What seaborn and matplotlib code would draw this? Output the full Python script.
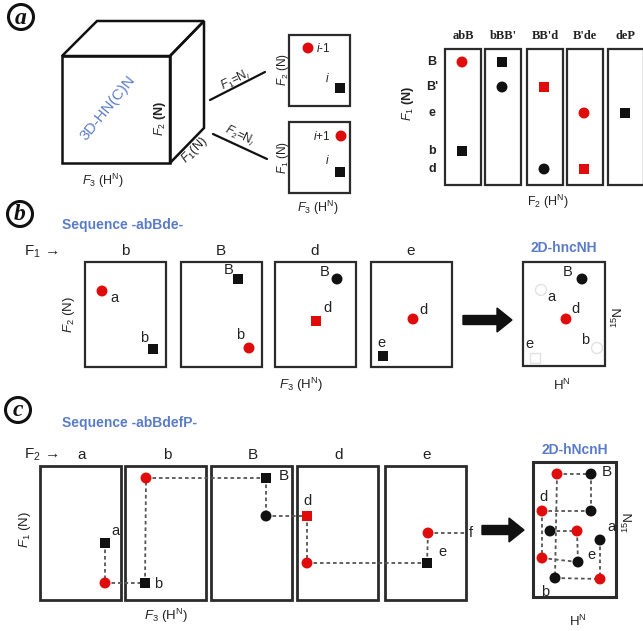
import numpy as np
import pandas as pd
import matplotlib
matplotlib.use("Agg")
import matplotlib.pyplot as plt
import seaborn as sns
from matplotlib.patches import Rectangle, Circle, Polygon, FancyArrow

sns.set_theme(style="white")
plt.rcParams['font.family'] = ['Liberation Sans', 'DejaVu Sans']
plt.rcParams['mathtext.fontset'] = 'custom'
plt.rcParams['mathtext.rm'] = 'Liberation Sans'
plt.rcParams['mathtext.it'] = 'Liberation Sans:italic'
plt.rcParams['mathtext.bf'] = 'Liberation Sans:bold'

RED = "#e00c0c"
BLK = "#111111"
BLUE = "#5a7cc8"
EDGE = "#2b2b2b"
DOT = "#555555"

# ---------------- data ----------------
# (a) strips of the 3D-HN(C)N spectrum
strip_titles = ["abB", "bBB'", "BB'd", "B'de", "deP"]
strip_levels = ["B", "B'", "e", "b", "d"]
strip_level_y = [62, 87, 113, 151, 169]
strip_left = [445, 485, 527, 567, 608]
strip_peak_strip = [0, 0, 1, 1, 2, 2, 3, 3, 4]
strip_peak_level = ["B", "b", "B", "B'", "B'", "d", "e", "d", "e"]
strip_peak_colour = ["red", "black", "black", "black", "red", "black", "red", "red", "black"]
strip_peak_shape = ["circle", "square", "square", "circle", "square", "circle", "circle", "square", "square"]

# (a) planes F1=Ni and F2=Ni
plane_x = [308, 340, 341, 340]
plane_y = [48, 88, 136, 172]
plane_colour = ["red", "black", "red", "black"]
plane_shape = ["circle", "square", "circle", "square"]

# (b) sequence -abBde- strips and 2D-hncNH
b_titles = ["b", "B", "d", "e"]
b_left = [85, 181, 275, 371]
b_x = [102, 153, 238, 249, 337, 316, 413, 383, 582, 566]
b_y = [291, 349, 279, 348, 279, 321, 319, 356, 279, 319]
b_colour = ["red", "black", "black", "red", "black", "red", "red", "black", "black", "red"]
b_shape = ["circle", "square", "square", "circle", "circle", "square", "circle", "square", "circle", "circle"]
b_labels = ["a", "b", "B", "b", "B", "d", "d", "e", "B", "d"]
b_label_dx = [12, -9, -9, -9, -12, 11, 10, -2, -14, 10]
b_label_dy = [7, -11, -9, -13, -7, -13, -9, -13, -7, -10]
hnc_ghost_x = [541, 597, 535]
hnc_ghost_y = [290, 348, 358]
hnc_ghost_shape = ["circle", "circle", "square"]
hnc_ghost_labels = ["a", "b", "e"]

# (c) sequence -abBdefP- strips and 2D-hNcnH
c_titles = ["a", "b", "B", "d", "e"]
c_left = [40, 125, 211, 297, 385]
c_x = [105, 105, 145, 146, 266, 266, 307, 307, 427, 428]
c_y = [543, 583, 583, 478, 478, 516, 516, 563, 563, 533]
c_colour = ["black", "red", "black", "red", "black", "black", "red", "red", "black", "red"]
c_shape = ["square", "circle", "square", "circle", "square", "circle", "square", "circle", "square", "circle"]
c_links = [(0, 1), (1, 2), (2, 3), (3, 4), (4, 5), (5, 6), (6, 7), (7, 8), (8, 9)]

n_x = [557, 591, 591, 542, 550, 577, 600, 542, 578, 555, 600]
n_y = [474, 474, 511, 511, 531, 531, 540, 558, 562, 578, 579]
n_colour = ["red", "black", "black", "red", "black", "red", "black", "red", "black", "black", "red"]
n_links = [(0, 1), (1, 2), (2, 3), (0, 9), (3, 7), (4, 5), (5, 8), (7, 8), (9, 10), (6, 10)]

# ---------------- figure ----------------
fig = plt.figure(figsize=(6.43, 6.31), dpi=100)
ax = fig.add_axes([0, 0, 1, 1])


def frame(x0, y0, x1, y1, lw=1.6, color=EDGE):
    ax.add_patch(Rectangle((x0, y0), x1 - x0, y1 - y0, fill=False,
                           lw=lw, ec=color, zorder=2))


def txt(x, y, s, size=10, **kw):
    kw.setdefault("ha", "center")
    kw.setdefault("va", "center")
    kw.setdefault("color", "#222222")
    ax.text(x, y, s, fontsize=size, **kw)


def circled(x, y, letter):
    ax.add_patch(Circle((x, y), 12.5, fill=False, lw=2.2, ec=BLK, zorder=3))
    ax.text(x, y + 1, letter, fontsize=17, ha="center", va="center",
            family=["Liberation Serif"], style="italic", weight="bold", color=BLK)


def arrow(x, y, length):
    ax.add_patch(FancyArrow(x, y, length, 0, width=9, head_width=24,
                            head_length=15, length_includes_head=True,
                            color=BLK, zorder=3))


rows = []

# ---------- panel (a) ----------
circled(21, 17, "a")
front = [(62, 56), (170, 56), (170, 163), (62, 163)]
top = [(62, 56), (97, 21), (204, 21), (170, 56)]
side = [(170, 56), (204, 21), (204, 128), (170, 163)]
for poly in (front, top, side):
    ax.add_patch(Polygon(poly, closed=True, fill=False, lw=1.8, ec=BLK, zorder=2))
txt(108, 108, "3D-HN(C)N", size=11, rotation=51, color=BLUE)
txt(160, 118, "$F_2$ (N)", size=9, rotation=90, weight="bold")
txt(103, 181, "$F_3$ (H$^{\\rm N}$)", size=9)
txt(194, 150, "$F_1$(N)", size=9, rotation=45)

ax.plot([210, 265], [100, 72], color=BLK, lw=1.6)
ax.plot([213, 267], [134, 159], color=BLK, lw=1.6)
txt(236, 80, "$F_1$=N$_i$", size=8.5, rotation=27)
txt(240, 136, "$F_2$=N$_i$", size=8.5, rotation=-25)

frame(289, 35, 350, 106)
frame(289, 122, 350, 193)
txt(283, 70, "$F_2$ (N)", size=8.5, rotation=90)
txt(283, 158, "$F_1$ (N)", size=8.5, rotation=90)
txt(318, 208, "$F_3$ (H$^{\\rm N}$)", size=9)
txt(323, 48, "$i$-1", size=8.5)
txt(327, 78, "$i$", size=8.5)
txt(322, 136, "$i$+1", size=8.5)
txt(327, 161, "$i$", size=8.5)
for x, y, c, s in zip(plane_x, plane_y, plane_colour, plane_shape):
    rows.append((x, y, c, s))

for i, t in enumerate(strip_titles):
    x0 = strip_left[i]
    frame(x0, 49, x0 + 36, 185)
    txt(x0 + 18, 36, t, size=9, weight="bold", family=["Liberation Serif"])
for lev, yy in zip(strip_levels, strip_level_y):
    txt(432, yy, lev, size=9, weight="bold")
txt(408, 103, "$F_1$ (N)", size=9, rotation=90, weight="bold")
txt(548, 202, "F$_2$ (H$^{\\rm N}$)", size=9)
lev_y = dict(zip(strip_levels, strip_level_y))
for si, lv, c, s in zip(strip_peak_strip, strip_peak_level, strip_peak_colour, strip_peak_shape):
    rows.append((strip_left[si] + 17, lev_y[lv], c, s))

# ---------- panel (b) ----------
circled(20, 214, "b")
txt(62, 225, "Sequence -abBde-", size=10, color=BLUE, weight="bold", ha="left")
txt(24, 252, "F$_1$ →", size=11, ha="left")
for t, x0 in zip(b_titles, b_left):
    frame(x0, 262, x0 + 81, 367)
    txt(x0 + 40, 251, t, size=11)
frame(523, 262, 605, 366)
txt(564, 248, "2D-hncNH", size=10, color=BLUE, weight="bold")
txt(69, 315, "$F_2$ (N)", size=9.5, rotation=90)
txt(301, 385, "$F_3$ (H$^{\\rm N}$)", size=9.5)
txt(562, 385, "H$^{\\rm N}$", size=9.5)
txt(618, 317, "$^{15}$N", size=9.5, rotation=90)
arrow(463, 320, 49)
for x, y, c, s, lab, dx, dy in zip(b_x, b_y, b_colour, b_shape, b_labels, b_label_dx, b_label_dy):
    rows.append((x, y, c, s))
    txt(x + dx, y + dy, lab, size=10.5)
for x, y, s, lab in zip(hnc_ghost_x, hnc_ghost_y, hnc_ghost_shape, hnc_ghost_labels):
    rows.append((x, y, "ghost", s))
txt(551, 297, "a", size=10.5)
txt(585, 340, "b", size=10.5)
txt(529, 344, "e", size=10.5)

# ---------- panel (c) ----------
circled(18, 410, "c")
txt(62, 423, "Sequence -abBdefP-", size=10, color=BLUE, weight="bold", ha="left")
txt(24, 455, "F$_2$ →", size=11, ha="left")
for t, x0 in zip(c_titles, c_left):
    frame(x0, 466, x0 + 81, 600, lw=2.0)
    txt(x0 + 42, 455, t, size=11)
frame(533, 462, 616, 597, lw=2.2)
txt(575, 450, "2D-hNcnH", size=10, color=BLUE, weight="bold")
txt(25, 530, "$F_1$ (N)", size=9.5, rotation=90)
txt(166, 616, "$F_3$ (H$^{\\rm N}$)", size=9.5)
txt(578, 621, "H$^{\\rm N}$", size=9.5)
txt(629, 522, "$^{15}$N", size=9.5, rotation=90)
arrow(482, 530, 42)

for i, j in c_links:
    ax.plot([c_x[i], c_x[j]], [c_y[i], c_y[j]], color=DOT, lw=1.3,
            ls=(0, (2, 1.6)), zorder=3)
ax.plot([c_x[9], 466], [c_y[9], c_y[9]], color=DOT, lw=1.3, ls=(0, (2, 1.6)), zorder=3)
txt(471, 533, "f", size=10.5)
for x, y, c, s in zip(c_x, c_y, c_colour, c_shape):
    rows.append((x, y, c, s))
txt(115, 531, "a", size=10.5)
txt(158, 584, "b", size=10.5)
txt(284, 476, "B", size=11)
txt(307, 501, "d", size=10.5)
txt(442, 552, "e", size=10.5)

for i, j in n_links:
    ax.plot([n_x[i], n_x[j]], [n_y[i], n_y[j]], color=DOT, lw=1.3,
            ls=(0, (2, 1.6)), zorder=3)
for x, y, c in zip(n_x, n_y, n_colour):
    rows.append((x, y, c, "circle"))
txt(607, 472, "B", size=11)
txt(543, 497, "d", size=10.5)
txt(611, 527, "a", size=10.5)
txt(591, 555, "e", size=10.5)
txt(545, 592, "b", size=10.5)

# ---------- all peaks ----------
peaks = pd.DataFrame(rows, columns=["x", "y", "colour", "shape"])
solid = peaks[peaks["colour"] != "ghost"]
sns.scatterplot(data=solid, x="x", y="y", hue="colour", style="shape",
                palette={"red": RED, "black": BLK},
                markers={"circle": "o", "square": "s"},
                s=62, linewidth=0, legend=False, ax=ax, zorder=4)
ghost = peaks[peaks["colour"] == "ghost"]
sns.scatterplot(data=ghost, x="x", y="y", style="shape",
                markers={"circle": "o", "square": "s"},
                s=62, facecolor="none", edgecolor="#e2e2e2", linewidth=1.0,
                legend=False, ax=ax, zorder=4)

ax.set_xlim(0, 643)
ax.set_ylim(631, 0)
ax.axis("off")
fig.savefig("out.png", dpi=100, facecolor="white")
